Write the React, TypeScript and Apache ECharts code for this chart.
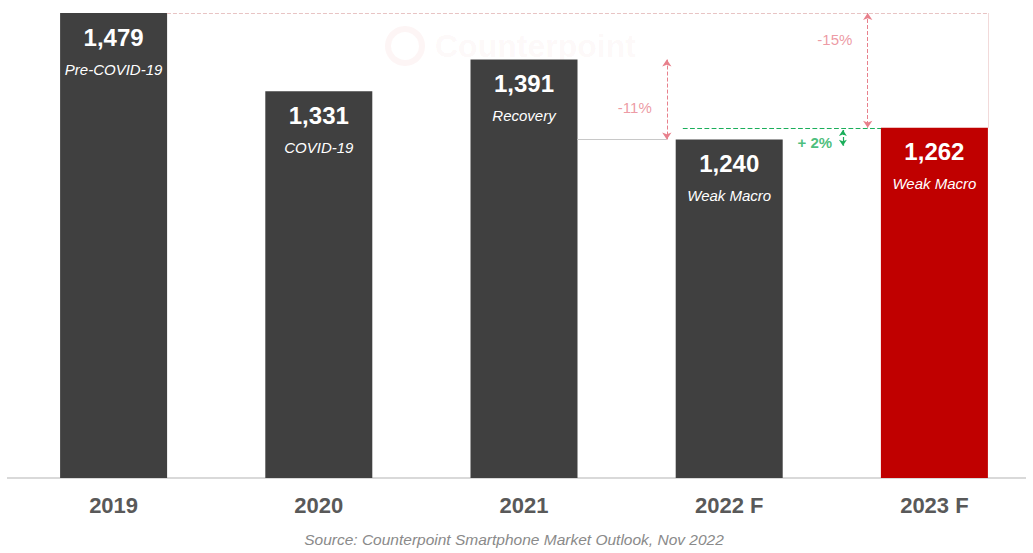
import React, { useEffect, useRef } from "react";
import * as echarts from "echarts";

const categories = ["2019", "2020", "2021", "2022 F", "2023 F"];
const shipments = [1479, 1331, 1391, 1240, 1262];
const phases = ["Pre-COVID-19", "COVID-19", "Recovery", "Weak Macro", "Weak Macro"];
const barColors = ["#404040", "#404040", "#404040", "#404040", "#c00000"];
const yMin = 600;
const yMax = 1479;

// annotation labels: [x (category units), y (value), text]
const redNotes: [number, number, string][] = [
  [2.54, 1300, "-11%"],
  [3.515, 1428, "-15%"],
];
const greenNotes: [number, number, string][] = [[3.417, 1234, "+ 2%"]];

const fmt = (v: number) => v.toLocaleString("en-US");

export default function App() {
  const ref = useRef<HTMLDivElement>(null);
  useEffect(() => {
    if (!ref.current) return;
    const chart = echarts.init(ref.current, null, { renderer: "svg" });
    const half = 0.26;
    const red = "#e8808c";
    const green = "#1aae5a";
    const dashedRed = { type: "dashed" as const, color: red, width: 1 };
    const dashedGreen = { type: "dashed" as const, color: green, width: 1.2 };
    const font = "Liberation Sans, Arial, sans-serif";

    chart.setOption({
      animation: false,
      backgroundColor: "#ffffff",
      grid: { left: 11, width: 1026, top: 13, bottom: 75 },
      xAxis: [
        {
          type: "category",
          data: categories,
          axisTick: { show: false },
          axisLine: { show: false },
          axisLabel: {
            margin: 16,
            fontSize: 22,
            fontWeight: "bold",
            color: "#595959",
            fontFamily: font,
          },
        },
        { type: "value", min: -0.5, max: 4.5, show: false },
      ],
      yAxis: {
        type: "value",
        min: yMin,
        max: yMax,
        show: false,
        splitLine: { show: false },
      },
      series: [
        {
          type: "bar",
          barWidth: 107,
          data: shipments.map((v, i) => ({
            value: v,
            itemStyle: { color: barColors[i] },
          })),
          label: {
            show: true,
            position: "insideTop",
            distance: 7,
            formatter: (p: any) => `{v|${fmt(p.value)}}\n{s|${phases[p.dataIndex]}}`,
            rich: {
              v: {
                fontSize: 24,
                fontWeight: "bold",
                color: "#ffffff",
                lineHeight: 34,
                fontFamily: font,
              },
              s: {
                fontSize: 15,
                fontStyle: "italic",
                color: "#ffffff",
                lineHeight: 30,
                fontFamily: font,
              },
            },
          },
        },
        // red annotations + guide lines
        {
          type: "scatter",
          xAxisIndex: 1,
          symbolSize: 0,
          data: redNotes,
          label: {
            show: true,
            position: "inside",
            formatter: (p: any) => p.value[2],
            color: red,
            fontSize: 15,
            fontFamily: font,
          },
          markLine: {
            silent: true,
            symbolSize: [7, 7],
            label: { show: false },
            lineStyle: dashedRed,
            data: [
              [
                { coord: [half, 1479], symbol: "none", lineStyle: { color: "#e8c4c4", type: "dashed", width: 1 } },
                { coord: [4 + half, 1479], symbol: "none" },
              ],
              [
                { coord: [4 + half, 1479], symbol: "none", lineStyle: { color: "#f2dada", type: "solid", width: 1 } },
                { coord: [4 + half, 1262], symbol: "none" },
              ],
              [
                { coord: [2 + half, 1240], symbol: "none", lineStyle: { color: "#c8c8c8", type: "solid", width: 1 } },
                { coord: [2.696, 1240], symbol: "none" },
              ],
              [
                { coord: [2.696, 1391], symbol: "arrow" },
                { coord: [2.696, 1240], symbol: "arrow" },
              ],
              [
                { coord: [3.675, 1479], symbol: "arrow" },
                { coord: [3.675, 1262], symbol: "arrow" },
              ],
            ],
          },
        },
        // green annotations
        {
          type: "scatter",
          xAxisIndex: 1,
          symbolSize: 0,
          data: greenNotes,
          label: {
            show: true,
            position: "inside",
            formatter: (p: any) => p.value[2],
            color: green,
            fontSize: 15,
            fontWeight: "bold",
            fontFamily: font,
          },
          markLine: {
            silent: true,
            symbolSize: [6, 6],
            label: { show: false },
            lineStyle: dashedGreen,
            data: [
              [
                { coord: [2.774, 1262], symbol: "none" },
                { coord: [3.74, 1262], symbol: "none" },
              ],
              [
                { coord: [3.554, 1258], symbol: "arrow" },
                { coord: [3.554, 1228], symbol: "arrow" },
              ],
            ],
          },
        },
      ],
      graphic: [
        {
          type: "line",
          silent: true,
          shape: { x1: 7, y1: 478, x2: 1026, y2: 478 },
          style: { stroke: "#d9d9d9", lineWidth: 2 },
        },
        {
          type: "ring",
          shape: { cx: 405, cy: 46, r: 20, r0: 14 },
          style: { fill: "rgba(220,60,60,0.05)" },
          silent: true,
        },
        {
          type: "text",
          x: 435,
          y: 46,
          silent: true,
          style: {
            text: "Counterpoint",
            fontSize: 32,
            fontWeight: "bold",
            fill: "rgba(210,80,80,0.05)",
            verticalAlign: "middle",
            fontFamily: font,
          },
        },
        {
          type: "text",
          x: 514,
          y: 539,
          style: {
            text: "Source: Counterpoint Smartphone Market Outlook, Nov 2022",
            fontSize: 15.5,
            fontStyle: "italic",
            fill: "#8a8a8a",
            align: "center",
            verticalAlign: "middle",
            fontFamily: font,
          },
        },
      ],
    });
    return () => chart.dispose();
  }, []);
  return (
    <div
      style={{ position: "absolute", left: 0, top: 0, width: 1033, height: 553, overflow: "hidden" }}
    >
      <div ref={ref} style={{ width: 1045, height: 553 }} />
    </div>
  );
}
